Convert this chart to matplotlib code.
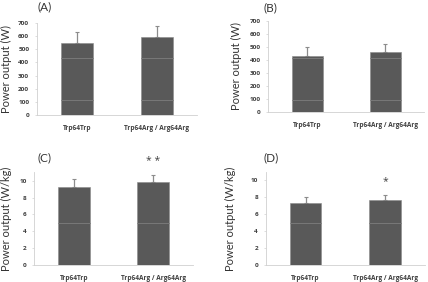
import matplotlib
matplotlib.use("Agg")
import matplotlib.pyplot as plt

W, H = 428, 282
categories = ["Trp64Trp", "Trp64Arg / Arg64Arg"]

a_vals = [550, 591]
a_err = [85, 87]
b_vals = [432, 458]
b_err = [69, 64]
c_vals = [9.25, 9.81]
c_err = [0.92, 0.87]
d_vals = [7.36, 7.71]
d_err = [0.63, 0.52]

a_ticks = [0, 100, 200, 300, 400, 500, 600, 700]
c_ticks = [0, 2, 4, 6, 8, 10]

panels = [
    # label, values, errors, ticks, ylim, ylabel, stars, faint-lines, box(px), ylabel x px, letter pos px
    ("(A)", a_vals, a_err, a_ticks, 700, "Power output (W)", "", [431, 114], (37, 197, 23, 115), 6, (37, 7)),
    ("(B)", b_vals, b_err, a_ticks, 700, "Power output (W)", "", [412, 94], (268.3, 424, 20.7, 112.3), 236, (263, 8)),
    ("(C)", c_vals, c_err, c_ticks, 11, "Power output (W/kg)", "* *", [4.95], (34.3, 193, 172.3, 265), 6, (37, 158)),
    ("(D)", d_vals, d_err, c_ticks, 11, "Power output (W/kg)", "*", [4.95], (265.7, 425, 171.8, 265), 230, (263, 158)),
]

fam = ["Lato", "DejaVu Sans"]
tfam = ["Open Sans", "DejaVu Sans"]
fig = plt.figure(figsize=(W / 100, H / 100), dpi=100)
fig.patch.set_facecolor("white")

bar_color = "#595959"
spine_color = "#d0d0d0"
x = [0, 1]
for label, vals, errs, ticks, ytop, ylabel, stars, faint, (l, r, t, b), ylx, (lx, ly) in panels:
    ax = fig.add_axes([l / W, (H - b) / H, (r - l) / W, (b - t) / H])
    ax.bar(x, vals, width=0.4, color=bar_color, edgecolor="#8a8a8a",
           linewidth=0.4, zorder=2)
    ax.errorbar(x, vals, yerr=[[0, 0], errs], fmt="none", ecolor="#8c8c8c",
                elinewidth=0.9, capsize=1.5, capthick=0.8, zorder=1)
    for lv in faint:
        for xi in x:
            ax.plot([xi - 0.2, xi + 0.2], [lv, lv], color="#7e7e7e",
                    linewidth=0.6, zorder=3)
    ax.set_xlim(-0.5, 1.5)
    ax.set_ylim(0, ytop)
    ax.set_yticks(ticks)
    ax.set_yticklabels([str(v) for v in ticks], fontsize=4.6, fontweight="bold",
                       color="#404040", family=tfam)
    ax.set_xticks(x)
    ax.set_xticklabels(categories, fontsize=4.7, fontweight="bold",
                       color="#404040", family=tfam)
    ax.tick_params(axis="y", length=1.5, width=0.5, color=spine_color, pad=4)
    ax.tick_params(axis="x", length=0, pad=7)
    for s in ["top", "right"]:
        ax.spines[s].set_visible(False)
    for s in ["left", "bottom"]:
        ax.spines[s].set_color(spine_color)
        ax.spines[s].set_linewidth(0.6)
    ax.set_ylabel(ylabel, fontsize=8, family=fam, color="#333333")
    ax.yaxis.set_label_coords(ylx / W, ((H - b) + (b - t) / 2) / H,
                              transform=fig.transFigure)
    ax.yaxis.label.set_va("center")
    fig.text(lx / W, (H - ly) / H, label, fontsize=8.5, family=fam,
             color="#333333", ha="left", va="center")
    if stars:
        ax.annotate(stars, (1, vals[1] + errs[1]), xytext=(0, 10),
                    textcoords="offset points", fontsize=7.5, color="#404040",
                    ha="center", va="center", family=tfam)

fig.savefig("out.png", dpi=100, facecolor="white")
